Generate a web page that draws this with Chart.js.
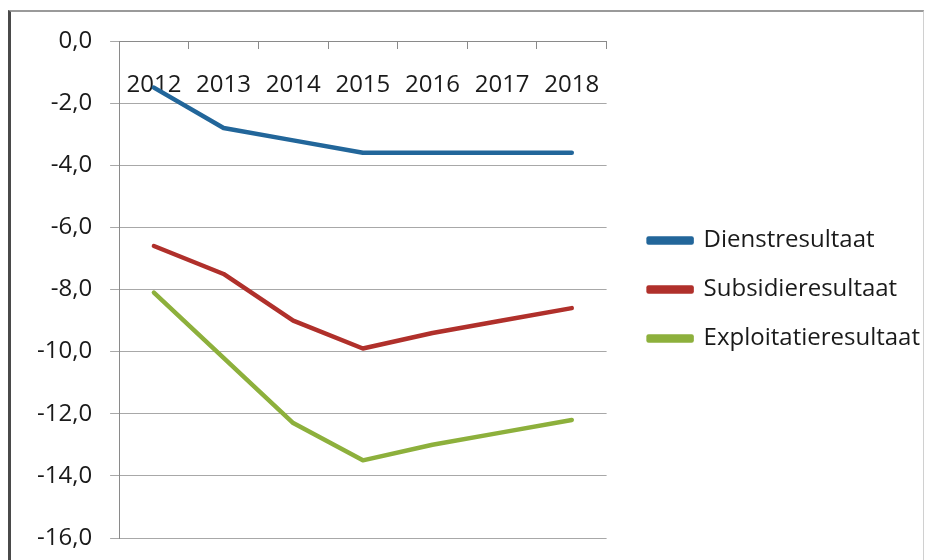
<!DOCTYPE html>
<html>
<head>
<meta charset="utf-8">
<script src="https://cdn.jsdelivr.net/npm/chart.js@4/dist/chart.umd.min.js"></script>
<style>
  html, body { margin: 0; padding: 0; background: #fff; }
  #wrap { position: relative; width: 934px; height: 560px; }
  #c { position: absolute; left: 0; top: 0; }
  #frame { position: absolute; left: 8px; top: 10px; width: 916px; height: 560px;
           border-left: 3px solid #4a4a4a; border-top: 2px solid #9a9a9a; border-right: 1px solid #d0d0d0;
           pointer-events: none; box-sizing: border-box; }
</style>
</head>
<body>
<div id="wrap">
  <canvas id="c" width="934" height="560"></canvas>
  <div id="frame"></div>
</div>
<script>
const categories = ['2012', '2013', '2014', '2015', '2016', '2017', '2018'];
const dienstresultaat = [-1.5, -2.8, -3.2, -3.6, -3.6, -3.6, -3.6];
const subsidieresultaat = [-6.6, -7.5, -9.0, -9.9, -9.4, -9.0, -8.6];
const exploitatieresultaat = [-8.1, -10.2, -12.3, -13.5, -13.0, -12.6, -12.2];
const seriesNames = ['Dienstresultaat', 'Subsidieresultaat', 'Exploitatieresultaat'];
const yTickLabels = ['-16,0', '-14,0', '-12,0', '-10,0', '-8,0', '-6,0', '-4,0', '-2,0', '0,0'];

const colors = ['#22669a', '#b0302b', '#8db03c'];
const FONT = "'Open Sans', sans-serif";

function ds(label, data, color) {
  return {
    label, data,
    borderColor: color, backgroundColor: color,
    borderWidth: 4.5, pointRadius: 0, tension: 0,
    borderJoinStyle: 'round', borderCapStyle: 'round', fill: false
  };
}

new Chart(document.getElementById('c'), {
  type: 'line',
  data: {
    labels: categories,
    datasets: [
      ds(seriesNames[0], dienstresultaat, colors[0]),
      ds(seriesNames[1], subsidieresultaat, colors[1]),
      ds(seriesNames[2], exploitatieresultaat, colors[2])
    ]
  },
  options: {
    responsive: false,
    animation: false,
    devicePixelRatio: 1,
    layout: { padding: { left: 19, top: 41, bottom: 22, right: 4 } },
    scales: {
      x: {
        type: 'category',
        position: { y: 0 },
        offset: true,
        grid: { display: true, drawOnChartArea: false, offset: true, tickLength: 7, color: '#8a8a8a' },
        border: { display: true, color: '#8a8a8a', width: 1 },
        ticks: { color: '#1a1a1a', font: { family: FONT, size: 24 }, padding: 23, maxRotation: 0, autoSkip: false }
      },
      y: {
        min: -16, max: 0,
        ticks: {
          stepSize: 2, color: '#1a1a1a', font: { family: FONT, size: 24, lineHeight: '8px' }, padding: 18,
          callback: (v) => yTickLabels[Math.round((v + 16) / 2)]
        },
        grid: { color: '#a8a8a8', tickLength: 9, lineWidth: 1 },
        border: { display: true, color: '#8a8a8a', width: 1 }
      },
      gap: {
        type: 'linear', position: 'right', display: true,
        ticks: { display: false }, grid: { display: false }, border: { display: false },
        afterFit: (s) => { s.width = 17; }
      }
    },
    plugins: {
      legend: {
        position: 'right',
        align: 'center',
        maxWidth: 400,
        labels: {
          boxWidth: 43, boxHeight: 4, padding: 25,
          color: '#1a1a1a', font: { family: FONT, size: 24 }
        }
      },
      tooltip: { enabled: false }
    }
  }
});
</script>
</body>
</html>
